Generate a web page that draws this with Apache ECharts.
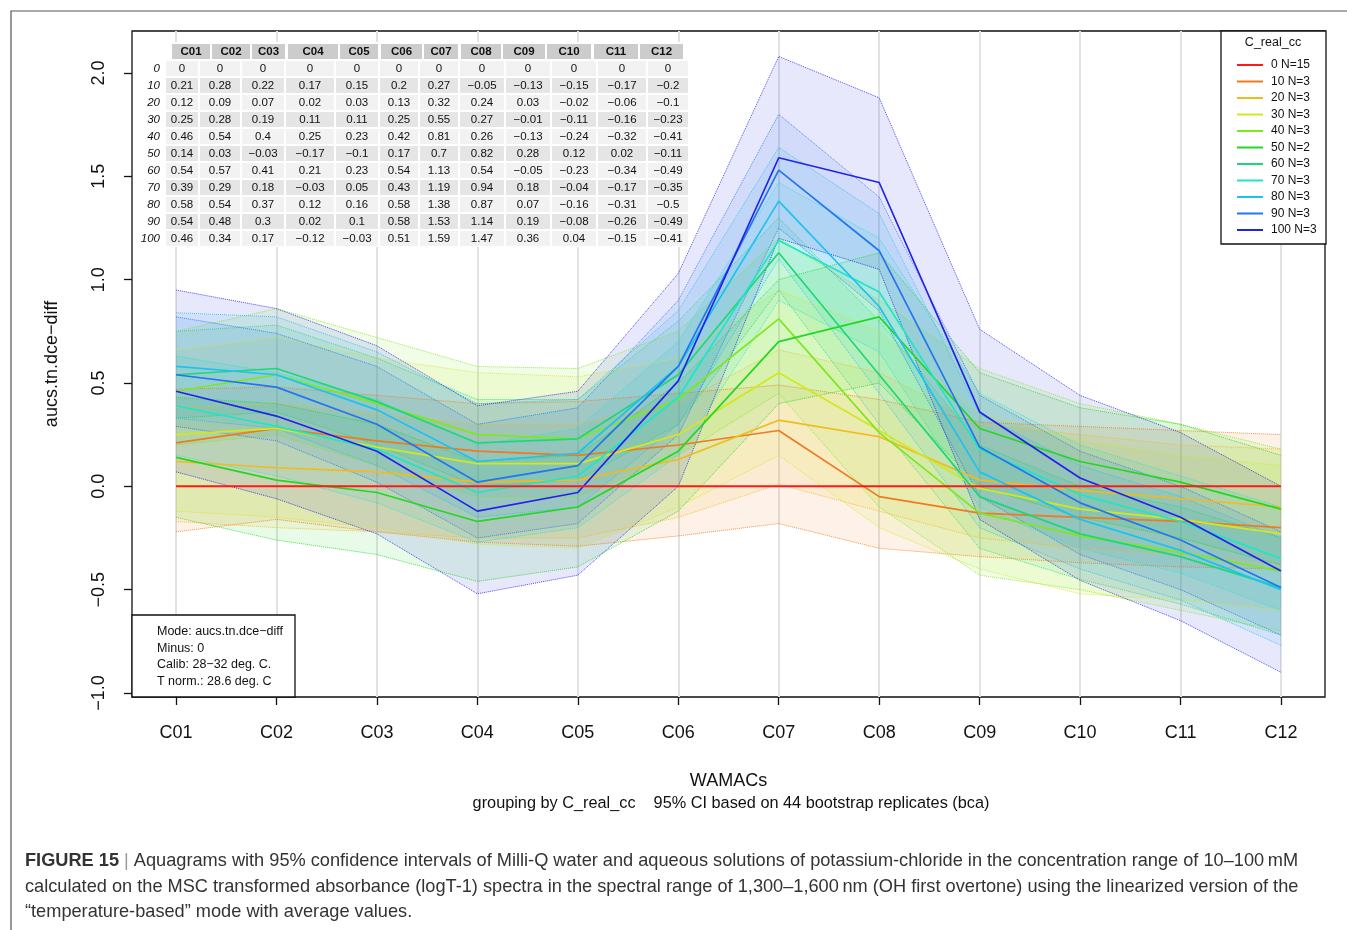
<!DOCTYPE html>
<html><head><meta charset="utf-8">
<script src="https://cdn.jsdelivr.net/npm/echarts@6/dist/echarts.min.js"></script>
<style>html,body{margin:0;padding:0;background:#fff}#c{width:1347px;height:930px}</style>
</head><body><div id="c"></div><script>
// ---------------- data ----------------
const categories = ['C01','C02','C03','C04','C05','C06','C07','C08','C09','C10','C11','C12'];
const groups = ['0','10','20','30','40','50','60','70','80','90','100'];
const groupN = [15,3,3,3,3,2,3,3,3,3,3];
const yTickValues = [-1,-0.5,0,0.5,1,1.5,2];

const mean0   = [0,0,0,0,0,0,0,0,0,0,0,0];
const mean10  = [0.21,0.28,0.22,0.17,0.15,0.2,0.27,-0.05,-0.13,-0.15,-0.17,-0.2];
const mean20  = [0.12,0.09,0.07,0.02,0.03,0.13,0.32,0.24,0.03,-0.02,-0.06,-0.1];
const mean30  = [0.25,0.28,0.19,0.11,0.11,0.25,0.55,0.27,-0.01,-0.11,-0.16,-0.23];
const mean40  = [0.46,0.54,0.4,0.25,0.23,0.42,0.81,0.26,-0.13,-0.24,-0.32,-0.41];
const mean50  = [0.14,0.03,-0.03,-0.17,-0.1,0.17,0.7,0.82,0.28,0.12,0.02,-0.11];
const mean60  = [0.54,0.57,0.41,0.21,0.23,0.54,1.13,0.54,-0.05,-0.23,-0.34,-0.49];
const mean70  = [0.39,0.29,0.18,-0.03,0.05,0.43,1.19,0.94,0.18,-0.04,-0.17,-0.35];
const mean80  = [0.58,0.54,0.37,0.12,0.16,0.58,1.38,0.87,0.07,-0.16,-0.31,-0.5];
const mean90  = [0.54,0.48,0.3,0.02,0.1,0.58,1.53,1.14,0.19,-0.08,-0.26,-0.49];
const mean100 = [0.46,0.34,0.17,-0.12,-0.03,0.51,1.59,1.47,0.36,0.04,-0.15,-0.41];

// 95% CI bounds
const lo0   = [-0.005,-0.005,-0.005,-0.005,-0.005,-0.005,-0.005,-0.005,-0.005,-0.005,-0.005,-0.005];
const up0   = [0.005,0.005,0.005,0.005,0.005,0.005,0.005,0.005,0.005,0.005,0.005,0.005];
const lo10  = [-0.22,-0.16,-0.22,-0.27,-0.29,-0.24,-0.18,-0.30,-0.34,-0.37,-0.39,-0.40];
const up10  = [0.47,0.48,0.44,0.40,0.41,0.45,0.49,0.42,0.31,0.29,0.27,0.25];
const lo20  = [-0.17,-0.2,-0.22,-0.25,-0.25,-0.15,0.01,-0.12,-0.25,-0.3,-0.33,-0.38];
const up20  = [0.38,0.40,0.35,0.30,0.30,0.40,0.66,0.55,0.30,0.25,0.20,0.18];
const lo30  = [-0.12,-0.15,-0.2,-0.28,-0.3,-0.1,0.15,-0.2,-0.4,-0.52,-0.55,-0.6];
const up30  = [0.66,0.72,0.62,0.55,0.53,0.62,0.95,0.75,0.35,0.22,0.15,0.1];
const lo40  = [0.2,0.25,0.1,-0.05,-0.05,0.15,0.45,-0.1,-0.43,-0.5,-0.6,-0.7];
const up40  = [0.75,0.86,0.72,0.58,0.57,0.75,1.2,0.9,0.57,0.4,0.3,0.18];
const lo50  = [-0.15,-0.26,-0.33,-0.46,-0.39,-0.12,0.4,0.5,0.0,-0.15,-0.25,-0.38];
const up50  = [0.43,0.4,0.3,0.12,0.15,0.5,1.0,1.13,0.55,0.38,0.3,0.15];
const lo60  = [0.33,0.36,0.2,0.0,0.03,0.3,0.95,0.3,-0.3,-0.45,-0.57,-0.72];
const up60  = [0.75,0.78,0.62,0.42,0.42,0.8,1.3,0.8,0.2,0.0,-0.1,-0.25];
const lo70  = [0.15,0.05,-0.08,-0.27,-0.2,0.15,0.9,0.65,-0.1,-0.3,-0.42,-0.6];
const up70  = [0.63,0.55,0.42,0.2,0.28,0.7,1.47,1.2,0.45,0.2,0.05,-0.1];
const lo80  = [0.33,0.28,0.1,-0.15,-0.1,0.3,1.1,0.45,-0.2,-0.4,-0.55,-0.77];
const up80  = [0.84,0.82,0.65,0.4,0.42,0.85,1.64,1.32,0.35,0.1,-0.05,-0.25];
const lo90  = [0.29,0.22,0.02,-0.25,-0.18,0.25,1.25,0.85,-0.05,-0.33,-0.5,-0.72];
const up90  = [0.82,0.74,0.58,0.3,0.38,0.9,1.80,1.40,0.44,0.17,0.0,-0.22];
const lo100 = [0.07,-0.06,-0.23,-0.52,-0.43,0.0,1.2,1.05,-0.16,-0.455,-0.65,-0.90];
const up100 = [0.95,0.86,0.68,0.39,0.46,1.03,2.08,1.88,0.76,0.44,0.26,0.0];

const subtitleText = 'grouping by C_real_cc    95% CI based on 44 bootstrap replicates (bca)';
const infoLines = ['Mode: aucs.tn.dce\u2212diff','Minus: 0','Calib: 28\u221232 deg. C.','T norm.: 28.6 deg. C'];
const captionLines = [
  'Aquagrams with 95% confidence intervals of Milli-Q water and aqueous solutions of potassium-chloride in the concentration range of 10\u2013100\u2009mM',
  'calculated on the MSC transformed absorbance (logT-1) spectra in the spectral range of 1,300\u20131,600\u2009nm (OH first overtone) using the linearized version of the',
  '\u201ctemperature-based\u201d mode with average values.'
];

// ---------------- styling / layout ----------------
const means = [mean0,mean10,mean20,mean30,mean40,mean50,mean60,mean70,mean80,mean90,mean100];
const los = [lo0,lo10,lo20,lo30,lo40,lo50,lo60,lo70,lo80,lo90,lo100];
const ups = [up0,up10,up20,up30,up40,up50,up60,up70,up80,up90,up100];
const colors = ['#FF1A1A','#F07A1E','#F2BA1E','#D2E81E','#7EE81E','#22D822','#1ED878','#1EE6C8','#1EC2F0','#2276EE','#2222EE'];

const F = 'Liberation Sans, Arial, Helvetica, sans-serif';
const minus = s => String(s).replace('-', '\u2212');
const n = categories.length;

const series = [];
groups.forEach((g, k) => {
  if (k === 0) return;
  const c = colors[k];
  series.push({
    type: 'custom', name: 'band' + g, silent: true, z: 1,
    data: los[k].map((v, i) => [i, v, ups[k][i]]),
    encode: { x: 0, y: [1, 2] },
    renderItem: (params, api) => {
      if (params.dataIndex !== 0) return null;
      const pts = [];
      for (let i = 0; i < n; i++) pts.push(api.coord([i, los[k][i]]));
      for (let i = n - 1; i >= 0; i--) pts.push(api.coord([i, ups[k][i]]));
      return { type: 'polygon', shape: { points: pts }, style: { fill: c, opacity: 0.1 } };
    }
  });
  [los[k], ups[k]].forEach((arr, b) => series.push({
    type: 'line', name: (b ? 'up' : 'lo') + g, data: arr.map((v, i) => [i, v]),
    symbol: 'none', silent: true, z: 2,
    lineStyle: { type: 'dotted', width: 1, color: c, opacity: 0.8 }
  }));
});
groups.forEach((g, k) => {
  series.push({
    type: 'line', name: g + ' N=' + groupN[k],
    data: means[k].map((v, i) => [i, v]), symbol: 'none', z: k === 0 ? 5 : 4,
    color: colors[k],
    lineStyle: { width: k === 0 ? 2 : 1.7, color: colors[k] }
  });
});

// table graphics built from the data arrays
const hdrL = [172,212,252,288,340,381,424,461,503,547,594,640];
const hdrR = [210,250,285,338,378,422,458,501,545,591,638,683];
const datL = [166,200,242,286,336,380,420,460,506,552,598,648];
const datR = [198,240,284,334,378,418,458,504,550,596,646,688];
const rowTop0 = 44, rowStep = 17, cellH = 15, ZT = 50;
const tableEls = [];
tableEls.push({ type:'rect', z:ZT, shape:{x:138,y:42,width:552,height:205}, style:{fill:'#fff'} });
categories.forEach((c, j) => {
  tableEls.push({ type:'rect', z:ZT, shape:{x:hdrL[j], y:rowTop0, width:hdrR[j]-hdrL[j], height:cellH}, style:{fill:'#cccccc'} });
  tableEls.push({ type:'text', z:ZT+1, x:(hdrL[j]+hdrR[j])/2, y:rowTop0+cellH/2, style:{text:c, font:'bold 11.5px '+F, fill:'#111', align:'center', verticalAlign:'middle'} });
});
groups.forEach((g, r) => {
  const y = rowTop0 + rowStep*(r+1);
  tableEls.push({ type:'text', z:ZT+1, x:160, y:y+cellH/2, style:{text:g, font:'italic 11.5px '+F, fill:'#111', align:'right', verticalAlign:'middle'} });
  categories.forEach((c, j) => {
    tableEls.push({ type:'rect', z:ZT, shape:{x:datL[j], y:y, width:datR[j]-datL[j], height:cellH}, style:{fill: r % 2 === 0 ? '#f2f2f2' : '#e5e5e5'} });
    tableEls.push({ type:'text', z:ZT+1, x:(datL[j]+datR[j])/2, y:y+cellH/2, style:{text:minus(means[r][j]), font:'11.5px '+F, fill:'#111', align:'center', verticalAlign:'middle'} });
  });
});

const infoEls = [{ type:'rect', z:ZT, shape:{x:132, y:615, width:163, height:82}, style:{fill:'#fff', stroke:'#111', lineWidth:1.3} }]
  .concat(infoLines.map((t, i) => ({ type:'text', z:ZT+1, x:157, y:632 + i*16.4, style:{text:t, font:'12.5px '+F, fill:'#111', verticalAlign:'middle'} })));

const graphics = [
  { type:'rect', shape:{x:11, y:11, width:2000, height:2000}, style:{fill:'none', stroke:'#555', lineWidth:1.2}, z:0, silent:true }
].concat(tableEls, infoEls, [
  { type:'rect', z:ZT, shape:{x:1221, y:31, width:105, height:213}, style:{fill:'#fff', stroke:'#111', lineWidth:1.3} },
  { type:'text', z:ZT+1, x:1273, y:43, style:{text:'C_real_cc', font:'12.5px '+F, fill:'#111', align:'center', verticalAlign:'middle'} },
  { type:'text', x:731, y:804, z:ZT, style:{text:subtitleText, font:'16.3px '+F, fill:'#111', align:'center', verticalAlign:'middle'} },
  { type:'text', x:25, y:861, z:ZT, style:{ text:'{b|FIGURE 15} {g||} ' + captionLines[0], font:'18.2px '+F, fill:'#333', verticalAlign:'middle',
      rich:{ b:{font:'bold 18.2px '+F, fill:'#333'}, g:{font:'18.2px '+F, fill:'#999'} } } },
  { type:'text', x:25, y:887, z:ZT, style:{text:captionLines[1], font:'18.2px '+F, fill:'#333', verticalAlign:'middle'} },
  { type:'text', x:25, y:912, z:ZT, style:{text:captionLines[2], font:'18.2px '+F, fill:'#333', verticalAlign:'middle'} }
]);

const chart = echarts.init(document.getElementById('c'), null, { renderer:'canvas' });
chart.setOption({
  animation: false,
  backgroundColor: '#fff',
  grid: { left:132, right:22, top:31, bottom:233, show:true, borderColor:'#111', borderWidth:1.3, backgroundColor:'transparent' },
  legend: {
    data: groups.map((g, k) => g + ' N=' + groupN[k]),
    orient: 'vertical', left: 1232, top: 53, z: 60,
    icon: 'rect', itemWidth: 26, itemHeight: 2, itemGap: 2.5,
    selectedMode: false,
    textStyle: { fontFamily: F, fontSize: 12, color: '#111', lineHeight: 14, padding: [0,0,0,3] }
  },
  xAxis: {
    type: 'value', min: -0.438, max: 11.438, minInterval: 1, maxInterval: 1, splitNumber: 12,
    name: 'WAMACs', nameLocation: 'middle', nameGap: 75,
    nameTextStyle: { fontFamily: F, fontSize: 18, color: '#111' },
    axisLine: { show: false, onZero: false },
    axisTick: { show: true, length: 8, customValues: categories.map((c, i) => i), lineStyle: { color: '#111', width: 1.3 } },
    axisLabel: { customValues: categories.map((c, i) => i), margin: 27, fontFamily: F, fontSize: 18, color: '#111',
      formatter: v => (Number.isInteger(v) && categories[v]) ? categories[v] : '' },
    splitLine: { show: true, lineStyle: { color: '#e2e2e2', width: 2 } }
  },
  yAxis: {
    type: 'value', min: -1.0194, max: 2.2032, minInterval: 0.5, maxInterval: 0.5, splitNumber: 6,
    name: 'aucs.tn.dce\u2212diff', nameLocation: 'middle', nameGap: 71,
    nameTextStyle: { fontFamily: F, fontSize: 18, color: '#111' },
    axisLine: { show: false, onZero: false },
    axisTick: { show: true, length: 8, customValues: yTickValues, lineStyle: { color: '#111', width: 1.3 } },
    axisLabel: { customValues: yTickValues, rotate: 90, margin: 24, fontFamily: F, fontSize: 18, color: '#111',
      formatter: v => minus(Number(v).toFixed(1)) },
    splitLine: { show: false }
  },
  series: series,
  graphic: graphics
});
</script></body></html>
